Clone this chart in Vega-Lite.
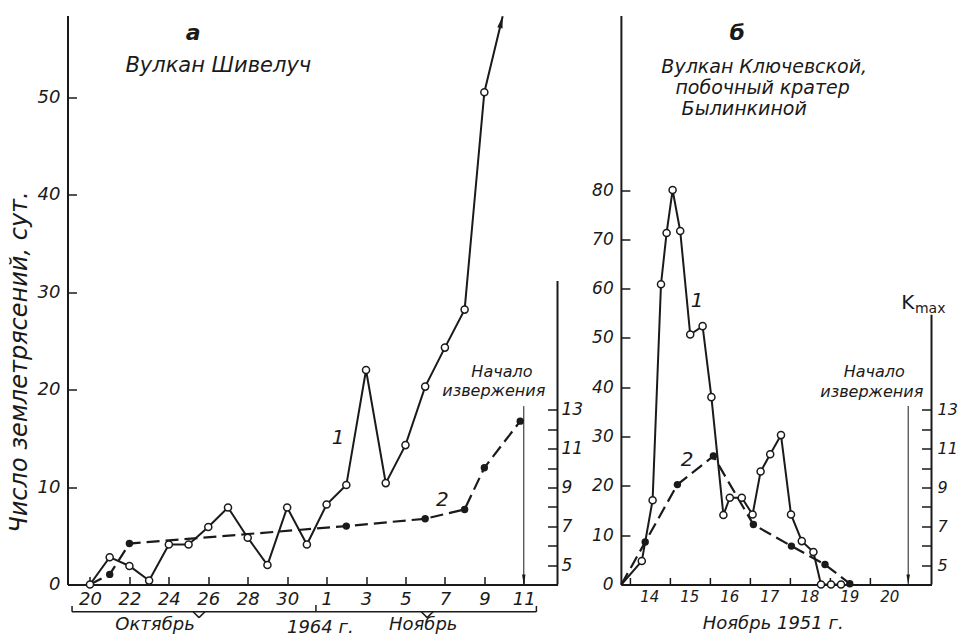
{
  "$schema": "https://vega.github.io/schema/vega-lite/v6.json",
  "padding": {"left": 7.5, "top": 11.5, "right": 0, "bottom": 3},
  "spacing": 63.4,
  "bounds": "flush",
  "datasets": {
    "shiveluch_n": [
      {"day": 20, "quakes": 0}, {"day": 21, "quakes": 2.8}, {"day": 22, "quakes": 1.9}, {"day": 23, "quakes": 0.4},
      {"day": 24, "quakes": 4.1}, {"day": 25, "quakes": 4.1}, {"day": 26, "quakes": 5.9}, {"day": 27, "quakes": 7.9},
      {"day": 28, "quakes": 4.8}, {"day": 29, "quakes": 2.0}, {"day": 30, "quakes": 7.9}, {"day": 31, "quakes": 4.1},
      {"day": 32, "quakes": 8.2}, {"day": 33, "quakes": 10.2}, {"day": 34, "quakes": 22.0}, {"day": 35, "quakes": 10.4},
      {"day": 36, "quakes": 14.3}, {"day": 37, "quakes": 20.3}, {"day": 38, "quakes": 24.3}, {"day": 39, "quakes": 28.2},
      {"day": 40, "quakes": 50.5}, {"day": 40.93, "quakes": 58.3}
    ],
    "shiveluch_k": [
      {"day": 20, "Kmax": 4.0}, {"day": 21, "Kmax": 4.52}, {"day": 22, "Kmax": 6.11}, {"day": 33, "Kmax": 7.01},
      {"day": 37, "Kmax": 7.39}, {"day": 39, "Kmax": 7.87}, {"day": 40, "Kmax": 10.02}, {"day": 41.82, "Kmax": 12.42}
    ],
    "klyuch_n": [
      {"day": 13.78, "quakes": 0}, {"day": 14.29, "quakes": 4.75}, {"day": 14.56, "quakes": 17.1}, {"day": 14.77, "quakes": 60.9},
      {"day": 14.91, "quakes": 71.3}, {"day": 15.06, "quakes": 80.0}, {"day": 15.25, "quakes": 71.7}, {"day": 15.5, "quakes": 50.7},
      {"day": 15.81, "quakes": 52.4}, {"day": 16.03, "quakes": 38.0}, {"day": 16.33, "quakes": 14.1}, {"day": 16.49, "quakes": 17.6},
      {"day": 16.79, "quakes": 17.6}, {"day": 17.06, "quakes": 14.2}, {"day": 17.26, "quakes": 22.9}, {"day": 17.5, "quakes": 26.4},
      {"day": 17.77, "quakes": 30.3}, {"day": 18.02, "quakes": 14.2}, {"day": 18.29, "quakes": 8.8}, {"day": 18.58, "quakes": 6.6},
      {"day": 18.77, "quakes": 0}, {"day": 19.02, "quakes": 0}, {"day": 19.27, "quakes": 0}
    ],
    "klyuch_k": [
      {"day": 13.78, "Kmax": 4.0}, {"day": 14.375, "Kmax": 6.19}, {"day": 15.18, "Kmax": 9.15}, {"day": 16.08, "Kmax": 10.62},
      {"day": 17.08, "Kmax": 7.09}, {"day": 18.03, "Kmax": 5.98}, {"day": 18.87, "Kmax": 5.03}, {"day": 19.49, "Kmax": 4.04}
    ]
  },
  "hconcat": [
    {
      "width": 490,
      "height": 569,
      "layer": [
        {
          "layer": [
            {
              "data": {"name": "shiveluch_k"},
              "mark": {"type": "line", "color": "#1a1a1a", "strokeWidth": 2.2, "strokeDash": [13, 6]},
              "encoding": {
                "x": {"field": "day", "type": "quantitative", "scale": {"domain": [18.86, 43.71], "nice": false, "zero": false}},
                "y": {"field": "Kmax", "type": "quantitative", "scale": {"domain": [4, 33.33], "nice": false, "zero": false},
                  "axis": {"orient": "right", "title": null, "values": [5, 6, 7, 8, 9, 10, 11, 12, 13], "labelExpr": "datum.value % 2 == 1 ? datum.value : ''", "domain": false, "tickSize": -10, "labelPadding": 13.5, "labelFontSize": 17}}
              }
            },
            {
              "data": {"name": "shiveluch_k"},
              "transform": [{"filter": "datum.day > 20"}],
              "mark": {"type": "circle", "color": "#1a1a1a", "size": 55, "opacity": 1},
              "encoding": {
                "x": {"field": "day", "type": "quantitative"},
                "y": {"field": "Kmax", "type": "quantitative"}
              }
            },
            {
              "data": {"values": [{}]},
              "mark": {"type": "rule", "color": "#1a1a1a", "strokeWidth": 2},
              "encoding": {"x": {"datum": 43.71}, "y": {"datum": 4}, "y2": {"datum": 19.65}}
            }
          ]
        },
        {
          "layer": [
            {
              "data": {"name": "shiveluch_n"},
              "mark": {"type": "line", "color": "#1a1a1a", "strokeWidth": 2},
              "encoding": {
                "x": {"field": "day", "type": "quantitative", "scale": {"domain": [18.86, 43.71], "nice": false, "zero": false},
                  "axis": {"title": null, "values": [20, 21, 22, 23, 24, 25, 26, 27, 28, 29, 30, 31, 32, 33, 34, 35, 36, 37, 38, 39, 40, 41, 42], "labelExpr": "datum.value % 2 == 0 ? (datum.value > 31 ? datum.value - 31 : datum.value) : ''", "tickSize": -8, "labelPadding": 14, "labelFontSize": 18}},
                "y": {"field": "quakes", "type": "quantitative", "scale": {"domain": [0, 58.37], "nice": false, "zero": false},
                  "axis": {"orient": "left", "title": "Число землетрясений, сут.", "values": [0, 10, 20, 30, 40, 50], "tickSize": -9, "labelPadding": 16.5, "labelFontSize": 18, "titleFontSize": 24, "titleX": -36, "titleY": 346, "titleAngle": -90, "titleBaseline": "bottom", "titleAlign": "center"}}
              }
            },
            {
              "data": {"name": "shiveluch_n"},
              "transform": [{"filter": "datum.day <= 40"}],
              "mark": {"type": "circle", "fill": "white", "stroke": "#1a1a1a", "strokeWidth": 1.5, "size": 50, "opacity": 1},
              "encoding": {
                "x": {"field": "day", "type": "quantitative"},
                "y": {"field": "quakes", "type": "quantitative"}
              }
            },
            {
              "data": {"values": [{}]},
              "mark": {"type": "point", "shape": "M-0.45,1L0.45,1L0,-1Z", "filled": true, "color": "#1a1a1a", "size": 144, "angle": 13.4, "opacity": 1},
              "encoding": {"x": {"datum": 40.86}, "y": {"datum": 57.7}}
            },
            {
              "data": {"values": [{}]},
              "mark": {"type": "rule", "color": "#1a1a1a", "strokeWidth": 1},
              "encoding": {"x": {"datum": 42}, "y": {"datum": 18.3}, "y2": {"datum": 0}}
            },
            {
              "data": {"values": [{}]},
              "mark": {"type": "point", "shape": "M-0.35,-1L0.35,-1L0,1Z", "filled": true, "color": "#1a1a1a", "size": 100, "opacity": 1},
              "encoding": {"x": {"datum": 42}, "y": {"datum": 0.51}}
            },
            {
              "data": {"values": [{}]},
              "mark": {"type": "text", "text": "а", "fontSize": 22, "fontWeight": "bold", "fontStyle": "italic", "font": "DejaVu Sans", "color": "#1a1a1a", "align": "center", "baseline": "middle"},
              "encoding": {"x": {"datum": 25.23}, "y": {"datum": 56.6}}
            },
            {
              "data": {"values": [{}]},
              "mark": {"type": "text", "text": "Вулкан Шивелуч", "fontSize": 21, "fontStyle": "italic", "font": "DejaVu Sans", "color": "#1a1a1a", "align": "center", "baseline": "middle"},
              "encoding": {"x": {"datum": 26.51}, "y": {"datum": 53.2}}
            },
            {
              "data": {"values": [{}]},
              "mark": {"type": "text", "text": "1", "fontSize": 20, "fontStyle": "italic", "font": "DejaVu Sans", "color": "#1a1a1a", "align": "center", "baseline": "middle"},
              "encoding": {"x": {"datum": 32.59}, "y": {"datum": 15.05}}
            },
            {
              "data": {"values": [{}]},
              "mark": {"type": "text", "text": "2", "fontSize": 20, "fontStyle": "italic", "font": "DejaVu Sans", "color": "#1a1a1a", "align": "center", "baseline": "middle"},
              "encoding": {"x": {"datum": 37.87}, "y": {"datum": 8.69}}
            },
            {
              "data": {"values": [{}]},
              "mark": {"type": "text", "text": "Начало", "fontSize": 16, "fontStyle": "italic", "font": "DejaVu Sans", "color": "#1a1a1a", "align": "center", "baseline": "middle"},
              "encoding": {"x": {"datum": 40.89}, "y": {"datum": 21.85}}
            },
            {
              "data": {"values": [{}]},
              "mark": {"type": "text", "text": "извержения", "fontSize": 16, "fontStyle": "italic", "font": "DejaVu Sans", "color": "#1a1a1a", "align": "center", "baseline": "middle"},
              "encoding": {"x": {"datum": 40.48}, "y": {"datum": 19.8}}
            },
            {
              "data": {"values": [{}]},
              "mark": {"type": "text", "text": "Октябрь", "fontSize": 18, "fontStyle": "italic", "font": "DejaVu Sans", "color": "#1a1a1a", "align": "center", "baseline": "middle"},
              "encoding": {"x": {"datum": 23.3}, "y": {"datum": -4.19}}
            },
            {
              "data": {"values": [{}]},
              "mark": {"type": "text", "text": "1964 г.", "fontSize": 18, "fontStyle": "italic", "font": "DejaVu Sans", "color": "#1a1a1a", "align": "center", "baseline": "middle"},
              "encoding": {"x": {"datum": 31.68}, "y": {"datum": -4.44}}
            },
            {
              "data": {"values": [{}]},
              "mark": {"type": "text", "text": "Ноябрь", "fontSize": 18, "fontStyle": "italic", "font": "DejaVu Sans", "color": "#1a1a1a", "align": "center", "baseline": "middle"},
              "encoding": {"x": {"datum": 36.9}, "y": {"datum": -4.15}}
            },
            {
              "data": {"values": [{}]},
              "mark": {"type": "rule", "color": "#1a1a1a", "strokeWidth": 1.5},
              "encoding": {"x": {"datum": 19.09}, "x2": {"datum": 42.64}, "y": {"datum": -2.8}}
            },
            {
              "data": {"values": [{}]},
              "mark": {"type": "rule", "color": "#1a1a1a", "strokeWidth": 1.5},
              "encoding": {"x": {"datum": 19.09}, "y": {"datum": -2.8}, "y2": {"datum": -2.2}}
            },
            {
              "data": {"values": [{}]},
              "mark": {"type": "rule", "color": "#1a1a1a", "strokeWidth": 1.5},
              "encoding": {"x": {"datum": 42.64}, "y": {"datum": -2.8}, "y2": {"datum": -2.2}}
            },
            {
              "data": {"values": [{}]},
              "mark": {"type": "rule", "color": "#1a1a1a", "strokeWidth": 1.5},
              "encoding": {"x": {"datum": 31.46}, "y": {"datum": -2.8}, "y2": {"datum": -2.1}}
            },
            {
              "data": {"values": [{}]},
              "mark": {"type": "rule", "color": "#1a1a1a", "strokeWidth": 1.5},
              "encoding": {"x": {"datum": 25.23}, "x2": {"datum": 25.53}, "y": {"datum": -2.8}, "y2": {"datum": -3.4}}
            },
            {
              "data": {"values": [{}]},
              "mark": {"type": "rule", "color": "#1a1a1a", "strokeWidth": 1.5},
              "encoding": {"x": {"datum": 25.53}, "x2": {"datum": 25.83}, "y": {"datum": -3.4}, "y2": {"datum": -2.8}}
            },
            {
              "data": {"values": [{}]},
              "mark": {"type": "rule", "color": "#1a1a1a", "strokeWidth": 1.5},
              "encoding": {"x": {"datum": 36.8}, "x2": {"datum": 37.1}, "y": {"datum": -2.8}, "y2": {"datum": -3.4}}
            },
            {
              "data": {"values": [{}]},
              "mark": {"type": "rule", "color": "#1a1a1a", "strokeWidth": 1.5},
              "encoding": {"x": {"datum": 37.1}, "x2": {"datum": 37.4}, "y": {"datum": -3.4}, "y2": {"datum": -2.8}}
            }
          ]
        }
      ],
      "resolve": {"scale": {"y": "independent"}}
    },
    {
      "width": 310.6,
      "height": 569,
      "layer": [
        {
          "layer": [
            {
              "data": {"name": "klyuch_k"},
              "mark": {"type": "line", "color": "#1a1a1a", "strokeWidth": 2.2, "strokeDash": [13, 6]},
              "encoding": {
                "x": {"field": "day", "type": "quantitative", "scale": {"domain": [13.7675, 21.5325], "nice": false, "zero": false}},
                "y": {"field": "Kmax", "type": "quantitative", "scale": {"domain": [4, 33.33], "nice": false, "zero": false},
                  "axis": {"orient": "right", "title": null, "values": [5, 6, 7, 8, 9, 10, 11, 12, 13], "labelExpr": "datum.value % 2 == 1 ? datum.value : ''", "domain": false, "tickSize": -10, "labelPadding": 15.5, "labelFontSize": 16}}
              }
            },
            {
              "data": {"name": "klyuch_k"},
              "transform": [{"filter": "datum.day > 13.9"}],
              "mark": {"type": "circle", "color": "#1a1a1a", "size": 55, "opacity": 1},
              "encoding": {
                "x": {"field": "day", "type": "quantitative"},
                "y": {"field": "Kmax", "type": "quantitative"}
              }
            },
            {
              "data": {"values": [{}]},
              "mark": {"type": "rule", "color": "#1a1a1a", "strokeWidth": 2},
              "encoding": {"x": {"datum": 21.5325}, "y": {"datum": 4}, "y2": {"datum": 17.9}}
            }
          ]
        },
        {
          "layer": [
            {
              "data": {"name": "klyuch_n"},
              "mark": {"type": "line", "color": "#1a1a1a", "strokeWidth": 2},
              "encoding": {
                "x": {"field": "day", "type": "quantitative", "scale": {"domain": [13.7675, 21.5325], "nice": false, "zero": false},
                  "axis": {"title": null, "values": [14, 15, 16, 17, 18, 19, 20], "labelOffset": 19, "tickSize": -7, "labelPadding": 12.3, "labelFontSize": 15}},
                "y": {"field": "quakes", "type": "quantitative", "scale": {"domain": [0, 115.4], "nice": false, "zero": false},
                  "axis": {"orient": "left", "title": null, "values": [0, 10, 20, 30, 40, 50, 60, 70, 80], "tickSize": -9, "labelPadding": 16.7, "labelFontSize": 17}}
              }
            },
            {
              "data": {"name": "klyuch_n"},
              "transform": [{"filter": "datum.day > 13.9"}],
              "mark": {"type": "circle", "fill": "white", "stroke": "#1a1a1a", "strokeWidth": 1.5, "size": 50, "opacity": 1},
              "encoding": {
                "x": {"field": "day", "type": "quantitative"},
                "y": {"field": "quakes", "type": "quantitative"}
              }
            },
            {
              "data": {"values": [{}]},
              "mark": {"type": "rule", "color": "#1a1a1a", "strokeWidth": 1},
              "encoding": {"x": {"datum": 20.95}, "y": {"datum": 36.2}, "y2": {"datum": 0}}
            },
            {
              "data": {"values": [{}]},
              "mark": {"type": "point", "shape": "M-0.35,-1L0.35,-1L0,1Z", "filled": true, "color": "#1a1a1a", "size": 100, "opacity": 1},
              "encoding": {"x": {"datum": 20.95}, "y": {"datum": 1.0}}
            },
            {
              "data": {"values": [{}]},
              "mark": {"type": "text", "text": "б", "fontSize": 22, "fontWeight": "bold", "fontStyle": "italic", "font": "DejaVu Sans", "color": "#1a1a1a", "align": "center", "baseline": "middle"},
              "encoding": {"x": {"datum": 16.675}, "y": {"datum": 111.9}}
            },
            {
              "data": {"values": [{}]},
              "mark": {"type": "text", "text": "Вулкан Ключевской,", "fontSize": 19, "fontStyle": "italic", "font": "DejaVu Sans", "color": "#1a1a1a", "align": "center", "baseline": "middle"},
              "encoding": {"x": {"datum": 17.35}, "y": {"datum": 105.0}}
            },
            {
              "data": {"values": [{}]},
              "mark": {"type": "text", "text": "побочный кратер", "fontSize": 19, "fontStyle": "italic", "font": "DejaVu Sans", "color": "#1a1a1a", "align": "center", "baseline": "middle"},
              "encoding": {"x": {"datum": 17.31}, "y": {"datum": 100.75}}
            },
            {
              "data": {"values": [{}]},
              "mark": {"type": "text", "text": "Былинкиной", "fontSize": 19, "fontStyle": "italic", "font": "DejaVu Sans", "color": "#1a1a1a", "align": "center", "baseline": "middle"},
              "encoding": {"x": {"datum": 16.85}, "y": {"datum": 96.5}}
            },
            {
              "data": {"values": [{}]},
              "mark": {"type": "text", "text": "1", "fontSize": 20, "fontStyle": "italic", "font": "DejaVu Sans", "color": "#1a1a1a", "align": "center", "baseline": "middle"},
              "encoding": {"x": {"datum": 15.675}, "y": {"datum": 57.5}}
            },
            {
              "data": {"values": [{}]},
              "mark": {"type": "text", "text": "2", "fontSize": 20, "fontStyle": "italic", "font": "DejaVu Sans", "color": "#1a1a1a", "align": "center", "baseline": "middle"},
              "encoding": {"x": {"datum": 15.425}, "y": {"datum": 25.3}}
            },
            {
              "data": {"values": [{}]},
              "mark": {"type": "text", "text": "Начало", "fontSize": 16, "fontStyle": "italic", "font": "DejaVu Sans", "color": "#1a1a1a", "align": "center", "baseline": "middle"},
              "encoding": {"x": {"datum": 20.1}, "y": {"datum": 43.1}}
            },
            {
              "data": {"values": [{}]},
              "mark": {"type": "text", "text": "извержения", "fontSize": 16, "fontStyle": "italic", "font": "DejaVu Sans", "color": "#1a1a1a", "align": "center", "baseline": "middle"},
              "encoding": {"x": {"datum": 20.04}, "y": {"datum": 39.1}}
            },
            {
              "data": {"values": [{}]},
              "mark": {"type": "text", "text": "K", "fontSize": 20, "font": "DejaVu Sans", "color": "#1a1a1a", "align": "center", "baseline": "middle"},
              "encoding": {"x": {"datum": 20.94}, "y": {"datum": 57.1}}
            },
            {
              "data": {"values": [{}]},
              "mark": {"type": "text", "text": "max", "fontSize": 14, "font": "DejaVu Sans", "color": "#1a1a1a", "align": "center", "baseline": "middle"},
              "encoding": {"x": {"datum": 21.5}, "y": {"datum": 55.9}}
            },
            {
              "data": {"values": [{}]},
              "mark": {"type": "text", "text": "Ноябрь 1951 г.", "fontSize": 18, "fontStyle": "italic", "font": "DejaVu Sans", "color": "#1a1a1a", "align": "center", "baseline": "middle"},
              "encoding": {"x": {"datum": 17.575}, "y": {"datum": -8.1}}
            }
          ]
        }
      ],
      "resolve": {"scale": {"y": "independent"}}
    }
  ],
  "config": {
    "view": {"stroke": null},
    "axis": {
      "grid": false,
      "domainColor": "#1a1a1a",
      "domainWidth": 2,
      "tickColor": "#1a1a1a",
      "tickWidth": 1.5,
      "labelColor": "#1a1a1a",
      "labelFont": "DejaVu Sans",
      "labelFontStyle": "italic",
      "labelFontWeight": "normal",
      "titleFont": "DejaVu Sans",
      "titleFontStyle": "italic",
      "titleFontWeight": "normal",
      "titleColor": "#1a1a1a",
      "labelOverlap": false,
      "labelFlush": false,
      "labelBound": false
    }
  }
}
